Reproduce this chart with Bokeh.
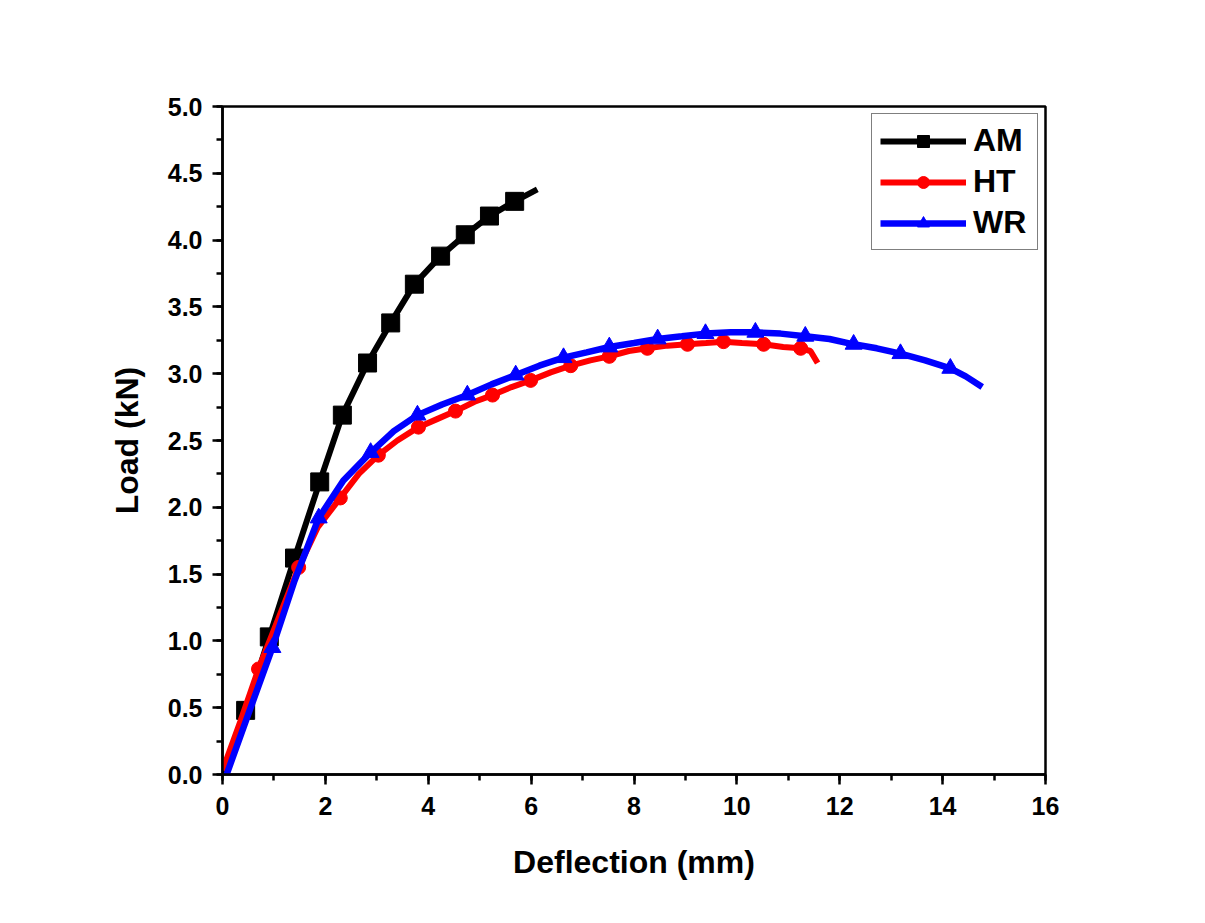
from bokeh.plotting import figure
from bokeh.models import Range1d, ColumnDataSource, Legend, LegendItem, SingleIntervalTicker, NumeralTickFormatter
from bokeh.embed import file_html
from bokeh.resources import INLINE

# Data (Deflection mm, Load kN)
am_x = [0.0, 0.45, 0.91, 1.40, 1.89, 2.33, 2.82, 3.27, 3.73, 4.24, 4.72, 5.19, 5.68, 6.12]
am_y = [0.0, 0.48, 1.03, 1.62, 2.19, 2.69, 3.08, 3.38, 3.67, 3.88, 4.04, 4.18, 4.29, 4.38]
am_marks = list(range(1, 13))

ht_x = [0.0, 0.35, 0.70, 1.10, 1.48, 1.85, 2.29, 2.65, 3.03, 3.40, 3.81, 4.17, 4.53, 4.90,
        5.25, 5.62, 5.99, 6.38, 6.77, 7.15, 7.52, 7.90, 8.26, 8.65, 9.04, 9.40, 9.74, 10.10,
        10.52, 10.90, 11.24, 11.43, 11.57]
ht_y = [0.03, 0.40, 0.79, 1.18, 1.55, 1.85, 2.07, 2.25, 2.39, 2.50, 2.60, 2.66, 2.72, 2.79,
        2.84, 2.90, 2.95, 3.01, 3.06, 3.10, 3.13, 3.17, 3.19, 3.21, 3.22, 3.23, 3.24, 3.23,
        3.22, 3.20, 3.19, 3.17, 3.08]
ht_marks = list(range(2, 31, 2))

wr_x = [0.08, 0.50, 0.97, 1.40, 1.87, 2.35, 2.88, 3.33, 3.79, 4.27, 4.76, 5.23, 5.70, 6.16,
        6.63, 7.08, 7.52, 8.00, 8.46, 8.93, 9.39, 9.88, 10.36, 10.85, 11.33, 11.80, 12.27,
        12.72, 13.18, 13.66, 14.15, 14.45, 14.77]
wr_y = [0.0, 0.45, 0.95, 1.45, 1.92, 2.20, 2.41, 2.57, 2.69, 2.77, 2.84, 2.92, 2.99, 3.06,
        3.12, 3.16, 3.20, 3.23, 3.26, 3.28, 3.30, 3.31, 3.31, 3.30, 3.28, 3.26, 3.22,
        3.19, 3.15, 3.10, 3.04, 2.98, 2.90]
wr_marks = list(range(2, 31, 2))

FONT = "Liberation Sans"

p = figure(frame_width=823, frame_height=668, output_backend="svg", toolbar_location=None,
           x_range=Range1d(0, 16), y_range=Range1d(0, 5),
           min_border_left=222, min_border_top=106, min_border_right=130, min_border_bottom=125)
p.background_fill_color = "white"
p.border_fill_color = "white"
p.grid.visible = False
p.outline_line_color = "black"
p.outline_line_width = 2.5

def sub(xs, ys, idx):
    return ColumnDataSource(dict(x=[xs[i] for i in idx], y=[ys[i] for i in idx]))

am_l = p.line(am_x, am_y, line_color="black", line_width=6)
am_m = p.scatter("x", "y", source=sub(am_x, am_y, am_marks), marker="square", size=18,
                 fill_color="black", line_color="black")
ht_l = p.line(ht_x, ht_y, line_color="red", line_width=6)
ht_m = p.scatter("x", "y", source=sub(ht_x, ht_y, ht_marks), marker="circle", size=14,
                 fill_color="red", line_color="red")
wr_l = p.line(wr_x, wr_y, line_color="blue", line_width=6.5)
wr_m = p.scatter("x", "y", source=sub(wr_x, wr_y, wr_marks), marker="triangle", size=17,
                 fill_color="blue", line_color="blue")

p.xaxis.ticker = SingleIntervalTicker(interval=2, num_minor_ticks=2)
p.yaxis.ticker = SingleIntervalTicker(interval=0.5, num_minor_ticks=2)
p.yaxis.formatter = NumeralTickFormatter(format="0.0")

for ax in (p.xaxis[0], p.yaxis[0]):
    ax.axis_line_width = 2.5
    ax.major_tick_line_width = 2.5
    ax.minor_tick_line_width = 2.5
    ax.major_tick_out = 10
    ax.major_tick_in = 0
    ax.minor_tick_out = 6
    ax.minor_tick_in = 0
    ax.major_label_text_font = FONT
    ax.major_label_text_font_style = "bold"
    ax.major_label_text_font_size = "25px"
    ax.major_label_text_color = "black"
    ax.axis_label_text_font = FONT
    ax.axis_label_text_font_style = "bold"
    ax.axis_label_text_font_size = "32px"
    ax.axis_label_text_color = "black"

p.xaxis.axis_label = "Deflection (mm)"
p.yaxis.axis_label = "Load (kN)"
p.xaxis.major_label_standoff = 12
p.yaxis.major_label_standoff = 10
p.xaxis.axis_label_standoff = 26
p.yaxis.axis_label_standoff = 20

legend = Legend(items=[LegendItem(label="AM", renderers=[am_l, am_m]),
                       LegendItem(label="HT", renderers=[ht_l, ht_m]),
                       LegendItem(label="WR", renderers=[wr_l, wr_m])],
                location="top_right")
legend.glyph_width = 86
legend.glyph_height = 30
legend.spacing = 4
legend.padding = 8
legend.margin = 7
legend.label_standoff = 7
legend.label_width = 56
legend.label_text_font = FONT
legend.label_text_font_style = "bold"
legend.label_text_font_size = "32px"
legend.label_text_color = "black"
legend.border_line_color = "black"
legend.border_line_width = 1.5
legend.background_fill_alpha = 1
p.add_layout(legend, "center")

open("out.html", "w").write(file_html(p, INLINE))
